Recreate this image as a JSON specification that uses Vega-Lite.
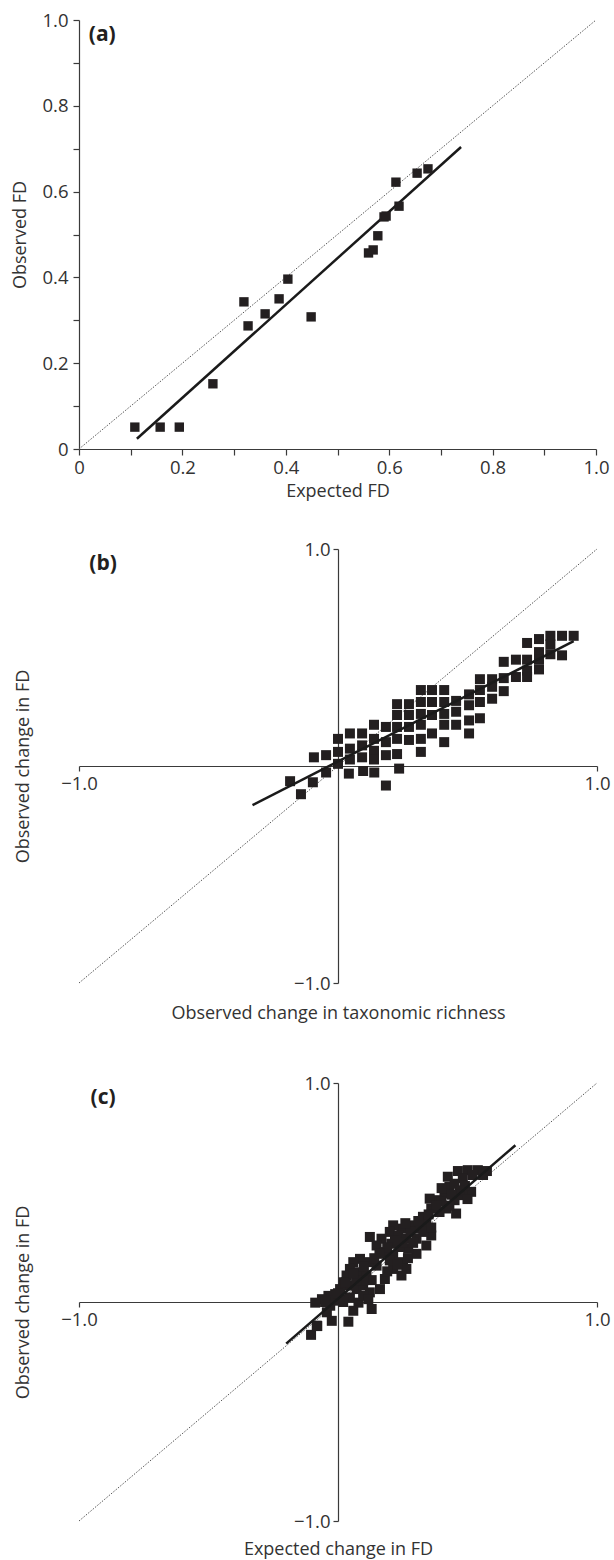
{
  "$schema": "https://vega.github.io/schema/vega-lite/v6.json",
  "padding": {"left": 11, "top": 11, "right": 5, "bottom": 5},
  "bounds": "flush",
  "spacing": 100,
  "datasets": {
    "ident_a": [{"x": 0, "y": 0}, {"x": 1, "y": 1}],
    "fit_a": [{"x": 0.112, "y": 0.024}, {"x": 0.739, "y": 0.704}],
    "pts_a": [
      {"x": 0.108, "y": 0.051}, {"x": 0.157, "y": 0.051}, {"x": 0.194, "y": 0.051},
      {"x": 0.259, "y": 0.152}, {"x": 0.319, "y": 0.343}, {"x": 0.327, "y": 0.287},
      {"x": 0.36, "y": 0.315}, {"x": 0.387, "y": 0.35}, {"x": 0.404, "y": 0.396},
      {"x": 0.449, "y": 0.308}, {"x": 0.56, "y": 0.457}, {"x": 0.569, "y": 0.464},
      {"x": 0.578, "y": 0.497}, {"x": 0.59, "y": 0.541}, {"x": 0.594, "y": 0.543},
      {"x": 0.613, "y": 0.622}, {"x": 0.619, "y": 0.566}, {"x": 0.654, "y": 0.643},
      {"x": 0.675, "y": 0.653}
    ],
    "lab_a": [{"x": 0.045, "y": 0.965, "t": "(a)"}],
    "ident_bc": [{"x": -1, "y": -1}, {"x": 1, "y": 1}],
    "fit_b": [{"x": -0.33, "y": -0.18}, {"x": 0.91, "y": 0.575}],
    "pts_b": [
      {"x": -0.185, "y": -0.07}, {"x": -0.143, "y": -0.13}, {"x": -0.097, "y": -0.075},
      {"x": -0.093, "y": 0.04}, {"x": -0.046, "y": 0.05}, {"x": -0.046, "y": -0.03},
      {"x": 0.0, "y": 0.125}, {"x": 0.0, "y": 0.065}, {"x": 0.0, "y": 0.01},
      {"x": 0.046, "y": 0.15}, {"x": 0.046, "y": 0.08}, {"x": 0.046, "y": 0.03},
      {"x": 0.042, "y": -0.035}, {"x": 0.093, "y": 0.15}, {"x": 0.093, "y": 0.095},
      {"x": 0.093, "y": 0.04}, {"x": 0.097, "y": -0.023}, {"x": 0.139, "y": 0.19},
      {"x": 0.139, "y": 0.125}, {"x": 0.139, "y": 0.07}, {"x": 0.139, "y": 0.03},
      {"x": 0.14, "y": -0.03}, {"x": 0.185, "y": 0.18}, {"x": 0.185, "y": 0.11},
      {"x": 0.185, "y": 0.05}, {"x": 0.185, "y": -0.09}, {"x": 0.228, "y": 0.285},
      {"x": 0.228, "y": 0.235}, {"x": 0.228, "y": 0.18}, {"x": 0.228, "y": 0.125},
      {"x": 0.228, "y": 0.055}, {"x": 0.236, "y": -0.012}, {"x": 0.274, "y": 0.285},
      {"x": 0.274, "y": 0.235}, {"x": 0.274, "y": 0.18}, {"x": 0.274, "y": 0.12},
      {"x": 0.32, "y": 0.35}, {"x": 0.32, "y": 0.295}, {"x": 0.32, "y": 0.24},
      {"x": 0.32, "y": 0.19}, {"x": 0.32, "y": 0.125}, {"x": 0.32, "y": 0.065},
      {"x": 0.363, "y": 0.35}, {"x": 0.363, "y": 0.295}, {"x": 0.363, "y": 0.235},
      {"x": 0.363, "y": 0.15}, {"x": 0.41, "y": 0.35}, {"x": 0.41, "y": 0.295},
      {"x": 0.41, "y": 0.24}, {"x": 0.41, "y": 0.19}, {"x": 0.41, "y": 0.11},
      {"x": 0.456, "y": 0.3}, {"x": 0.456, "y": 0.25}, {"x": 0.456, "y": 0.19},
      {"x": 0.506, "y": 0.33}, {"x": 0.506, "y": 0.28}, {"x": 0.506, "y": 0.21},
      {"x": 0.506, "y": 0.15}, {"x": 0.548, "y": 0.4}, {"x": 0.548, "y": 0.35},
      {"x": 0.548, "y": 0.295}, {"x": 0.548, "y": 0.22}, {"x": 0.595, "y": 0.4},
      {"x": 0.595, "y": 0.365}, {"x": 0.595, "y": 0.31}, {"x": 0.64, "y": 0.48},
      {"x": 0.64, "y": 0.405}, {"x": 0.64, "y": 0.345}, {"x": 0.687, "y": 0.49},
      {"x": 0.687, "y": 0.41}, {"x": 0.73, "y": 0.567}, {"x": 0.73, "y": 0.49},
      {"x": 0.73, "y": 0.44}, {"x": 0.73, "y": 0.41}, {"x": 0.776, "y": 0.585},
      {"x": 0.776, "y": 0.525}, {"x": 0.776, "y": 0.49}, {"x": 0.776, "y": 0.445},
      {"x": 0.82, "y": 0.6}, {"x": 0.82, "y": 0.56}, {"x": 0.82, "y": 0.515},
      {"x": 0.865, "y": 0.6}, {"x": 0.865, "y": 0.51}, {"x": 0.91, "y": 0.6}
    ],
    "lab_b": [{"x": -0.907, "y": 0.93, "t": "(b)"}],
    "fit_c": [{"x": -0.2, "y": -0.19}, {"x": 0.685, "y": 0.716}],
    "pts_c": [
      {"x": 0.424, "y": 0.572}, {"x": 0.463, "y": 0.598}, {"x": 0.501, "y": 0.602},
      {"x": 0.54, "y": 0.602}, {"x": 0.575, "y": 0.598}, {"x": 0.482, "y": 0.566},
      {"x": 0.43, "y": 0.526}, {"x": 0.514, "y": 0.503}, {"x": 0.411, "y": 0.495},
      {"x": 0.379, "y": 0.465}, {"x": 0.354, "y": 0.472}, {"x": 0.45, "y": 0.465},
      {"x": 0.482, "y": 0.488}, {"x": 0.456, "y": 0.404}, {"x": 0.418, "y": 0.427},
      {"x": 0.392, "y": 0.411}, {"x": 0.36, "y": 0.427}, {"x": 0.328, "y": 0.389},
      {"x": 0.341, "y": 0.358}, {"x": 0.303, "y": 0.335}, {"x": 0.277, "y": 0.35},
      {"x": 0.245, "y": 0.335}, {"x": 0.213, "y": 0.35}, {"x": 0.2, "y": 0.32},
      {"x": 0.232, "y": 0.304}, {"x": 0.264, "y": 0.289}, {"x": 0.303, "y": 0.289},
      {"x": 0.36, "y": 0.304}, {"x": 0.341, "y": 0.258}, {"x": 0.303, "y": 0.22},
      {"x": 0.271, "y": 0.243}, {"x": 0.238, "y": 0.251}, {"x": 0.206, "y": 0.266},
      {"x": 0.168, "y": 0.289}, {"x": 0.123, "y": 0.297}, {"x": 0.149, "y": 0.258},
      {"x": 0.181, "y": 0.228}, {"x": 0.213, "y": 0.212}, {"x": 0.251, "y": 0.182},
      {"x": 0.264, "y": 0.151}, {"x": 0.245, "y": 0.121}, {"x": 0.213, "y": 0.151},
      {"x": 0.181, "y": 0.105}, {"x": 0.162, "y": 0.059}, {"x": 0.149, "y": 0.166},
      {"x": 0.117, "y": 0.182}, {"x": 0.085, "y": 0.197}, {"x": 0.059, "y": 0.182},
      {"x": 0.046, "y": 0.151}, {"x": 0.079, "y": 0.136}, {"x": 0.11, "y": 0.121},
      {"x": 0.033, "y": 0.121}, {"x": 0.021, "y": 0.09}, {"x": 0.046, "y": 0.075},
      {"x": 0.072, "y": 0.059}, {"x": 0.097, "y": 0.075}, {"x": 0.123, "y": 0.044},
      {"x": 0.008, "y": 0.059}, {"x": -0.011, "y": 0.036}, {"x": -0.037, "y": 0.028},
      {"x": -0.062, "y": 0.013}, {"x": -0.088, "y": -0.003}, {"x": -0.018, "y": 0.006},
      {"x": 0.014, "y": 0.013}, {"x": 0.046, "y": 0.021}, {"x": 0.079, "y": -0.003},
      {"x": 0.059, "y": -0.04}, {"x": 0.13, "y": -0.032}, {"x": -0.03, "y": -0.017},
      {"x": -0.043, "y": -0.047}, {"x": -0.024, "y": -0.086}, {"x": 0.04, "y": -0.09},
      {"x": -0.082, "y": -0.108}, {"x": 0.097, "y": 0.028}, {"x": 0.117, "y": 0.013},
      {"x": -0.104, "y": -0.15}, {"x": -0.08, "y": -0.11},
      {"x": 0.52, "y": 0.58}, {"x": 0.56, "y": 0.58}, {"x": 0.45, "y": 0.54},
      {"x": 0.49, "y": 0.53}, {"x": 0.47, "y": 0.51}, {"x": 0.44, "y": 0.49},
      {"x": 0.4, "y": 0.46}, {"x": 0.43, "y": 0.44}, {"x": 0.38, "y": 0.44},
      {"x": 0.35, "y": 0.4}, {"x": 0.31, "y": 0.37}, {"x": 0.28, "y": 0.32},
      {"x": 0.26, "y": 0.36}, {"x": 0.33, "y": 0.32}, {"x": 0.29, "y": 0.27},
      {"x": 0.25, "y": 0.27}, {"x": 0.22, "y": 0.28}, {"x": 0.19, "y": 0.25},
      {"x": 0.16, "y": 0.22}, {"x": 0.14, "y": 0.2}, {"x": 0.2, "y": 0.19},
      {"x": 0.23, "y": 0.17}, {"x": 0.19, "y": 0.14}, {"x": 0.13, "y": 0.1},
      {"x": 0.1, "y": 0.1}, {"x": 0.07, "y": 0.1}, {"x": 0.03, "y": 0.09},
      {"x": 0.0, "y": 0.04}, {"x": -0.05, "y": 0.0}, {"x": 0.02, "y": 0.0},
      {"x": 0.1, "y": 0.16}, {"x": 0.06, "y": 0.13}, {"x": 0.27, "y": 0.2},
      {"x": 0.4, "y": 0.52}, {"x": 0.5, "y": 0.47}, {"x": 0.36, "y": 0.34}
    ],
    "lab_c": [{"x": -0.907, "y": 0.93, "t": "(c)"}]
  },
  "vconcat": [
    {
      "width": 517,
      "height": 429,
      "layer": [
        {
          "data": {"name": "ident_a"},
          "mark": {"type": "line", "strokeDash": [1.5, 1.5], "color": "#555555", "strokeWidth": 1},
          "encoding": {
            "x": {"field": "x", "type": "quantitative", "scale": {"domain": [0, 1], "nice": false},
              "axis": {"title": "Expected FD", "values": [0, 0.1, 0.2, 0.3, 0.4, 0.5, 0.6, 0.7, 0.8, 0.9, 1],
                "labelExpr": "datum.value == 0 ? '0' : (round(datum.value * 10) % 2 == 0 ? format(datum.value, '.1f') : '')",
                "tickSize": 6, "labelPadding": 3, "titlePadding": 6, "labelFlush": false, "labelOverlap": false}},
            "y": {"field": "y", "type": "quantitative", "scale": {"domain": [0, 1], "nice": false},
              "axis": {"title": "Observed FD", "values": [0, 0.1, 0.2, 0.3, 0.4, 0.5, 0.6, 0.7, 0.8, 0.9, 1],
                "labelExpr": "datum.value == 0 ? '0' : (round(datum.value * 10) % 2 == 0 ? format(datum.value, '.1f') : '')",
                "tickSize": 6, "labelPadding": 5, "titlePadding": 12, "labelFlush": false, "labelOverlap": false}}
          }
        },
        {
          "data": {"name": "fit_a"},
          "mark": {"type": "line", "color": "#1a1a1a", "strokeWidth": 2.5},
          "encoding": {
            "x": {"field": "x", "type": "quantitative", "scale": {"domain": [0, 1], "nice": false}},
            "y": {"field": "y", "type": "quantitative", "scale": {"domain": [0, 1], "nice": false}}
          }
        },
        {
          "data": {"name": "pts_a"},
          "mark": {"type": "square", "size": 88, "color": "#231f20", "opacity": 1, "filled": true},
          "encoding": {
            "x": {"field": "x", "type": "quantitative", "scale": {"domain": [0, 1], "nice": false}},
            "y": {"field": "y", "type": "quantitative", "scale": {"domain": [0, 1], "nice": false}}
          }
        },
        {
          "data": {"name": "lab_a"},
          "mark": {"type": "text", "font": "Open Sans", "fontSize": 21, "fontWeight": "bold", "color": "#231f20", "align": "center", "baseline": "middle"},
          "encoding": {
            "x": {"field": "x", "type": "quantitative", "scale": {"domain": [0, 1], "nice": false}},
            "y": {"field": "y", "type": "quantitative", "scale": {"domain": [0, 1], "nice": false}},
            "text": {"field": "t"}
          }
        }
      ]
    },
    {
      "width": 518,
      "height": 434,
      "resolve": {"axis": {"x": "independent", "y": "independent"}},
      "layer": [
        {
          "data": {"name": "ident_bc"},
          "mark": {"type": "line", "strokeDash": [1.5, 1.5], "color": "#555555", "strokeWidth": 1},
          "encoding": {
            "x": {"field": "x", "type": "quantitative", "scale": {"domain": [-1, 1], "nice": false},
              "axis": {"title": null, "orient": "bottom", "offset": -217, "values": [-1, 1], "format": ".1f",
                "tickSize": 5, "labelPadding": 3, "labelFlush": false, "labelOverlap": false}},
            "y": {"field": "y", "type": "quantitative", "scale": {"domain": [-1, 1], "nice": false},
              "axis": {"title": null, "orient": "left", "offset": -259, "values": [-1, 1], "format": ".1f",
                "tickSize": 5, "labelPadding": 3, "labelFlush": false, "labelOverlap": false}}
          }
        },
        {
          "data": {"name": "pts_b"},
          "mark": {"type": "square", "size": 100, "color": "#231f20", "opacity": 1, "filled": true},
          "encoding": {
            "x": {"field": "x", "type": "quantitative", "scale": {"domain": [-1, 1], "nice": false},
              "axis": {"title": "Observed change in taxonomic richness", "orient": "bottom", "labels": false, "ticks": false, "domain": false, "titlePadding": 21}},
            "y": {"field": "y", "type": "quantitative", "scale": {"domain": [-1, 1], "nice": false},
              "axis": {"title": "Observed change in FD", "orient": "left", "labels": false, "ticks": false, "domain": false, "titlePadding": 47}}
          }
        },
        {
          "data": {"name": "fit_b"},
          "mark": {"type": "line", "color": "#1a1a1a", "strokeWidth": 2.5},
          "encoding": {
            "x": {"field": "x", "type": "quantitative", "scale": {"domain": [-1, 1], "nice": false}, "axis": null},
            "y": {"field": "y", "type": "quantitative", "scale": {"domain": [-1, 1], "nice": false}, "axis": null}
          }
        },
        {
          "data": {"name": "lab_b"},
          "mark": {"type": "text", "font": "Open Sans", "fontSize": 21, "fontWeight": "bold", "color": "#231f20", "align": "center", "baseline": "middle"},
          "encoding": {
            "x": {"field": "x", "type": "quantitative", "scale": {"domain": [-1, 1], "nice": false}, "axis": null},
            "y": {"field": "y", "type": "quantitative", "scale": {"domain": [-1, 1], "nice": false}, "axis": null},
            "text": {"field": "t"}
          }
        }
      ]
    },
    {
      "width": 518,
      "height": 438,
      "resolve": {"axis": {"x": "independent", "y": "independent"}},
      "layer": [
        {
          "data": {"name": "ident_bc"},
          "mark": {"type": "line", "strokeDash": [1.5, 1.5], "color": "#555555", "strokeWidth": 1},
          "encoding": {
            "x": {"field": "x", "type": "quantitative", "scale": {"domain": [-1, 1], "nice": false},
              "axis": {"title": null, "orient": "bottom", "offset": -219, "values": [-1, 1], "format": ".1f",
                "tickSize": 5, "labelPadding": 3, "labelFlush": false, "labelOverlap": false}},
            "y": {"field": "y", "type": "quantitative", "scale": {"domain": [-1, 1], "nice": false},
              "axis": {"title": null, "orient": "left", "offset": -259, "values": [-1, 1], "format": ".1f",
                "tickSize": 5, "labelPadding": 3, "labelFlush": false, "labelOverlap": false}}
          }
        },
        {
          "data": {"name": "pts_c"},
          "mark": {"type": "square", "size": 100, "color": "#231f20", "opacity": 1, "filled": true},
          "encoding": {
            "x": {"field": "x", "type": "quantitative", "scale": {"domain": [-1, 1], "nice": false},
              "axis": {"title": "Expected change in FD", "orient": "bottom", "labels": false, "ticks": false, "domain": false, "titlePadding": 19}},
            "y": {"field": "y", "type": "quantitative", "scale": {"domain": [-1, 1], "nice": false},
              "axis": {"title": "Observed change in FD", "orient": "left", "labels": false, "ticks": false, "domain": false, "titlePadding": 47}}
          }
        },
        {
          "data": {"name": "fit_c"},
          "mark": {"type": "line", "color": "#1a1a1a", "strokeWidth": 2.5},
          "encoding": {
            "x": {"field": "x", "type": "quantitative", "scale": {"domain": [-1, 1], "nice": false}, "axis": null},
            "y": {"field": "y", "type": "quantitative", "scale": {"domain": [-1, 1], "nice": false}, "axis": null}
          }
        },
        {
          "data": {"name": "lab_c"},
          "mark": {"type": "text", "font": "Open Sans", "fontSize": 21, "fontWeight": "bold", "color": "#231f20", "align": "center", "baseline": "middle"},
          "encoding": {
            "x": {"field": "x", "type": "quantitative", "scale": {"domain": [-1, 1], "nice": false}, "axis": null},
            "y": {"field": "y", "type": "quantitative", "scale": {"domain": [-1, 1], "nice": false}, "axis": null},
            "text": {"field": "t"}
          }
        }
      ]
    }
  ],
  "config": {
    "view": {"stroke": null},
    "axis": {
      "grid": false,
      "labelFont": "Open Sans",
      "titleFont": "Open Sans",
      "labelFontSize": 18.5,
      "titleFontSize": 18,
      "titleFontWeight": "normal",
      "labelColor": "#333333",
      "titleColor": "#333333",
      "domainColor": "#3a3a3a",
      "tickColor": "#3a3a3a",
      "domainWidth": 1.2,
      "tickWidth": 1.2
    }
  }
}
